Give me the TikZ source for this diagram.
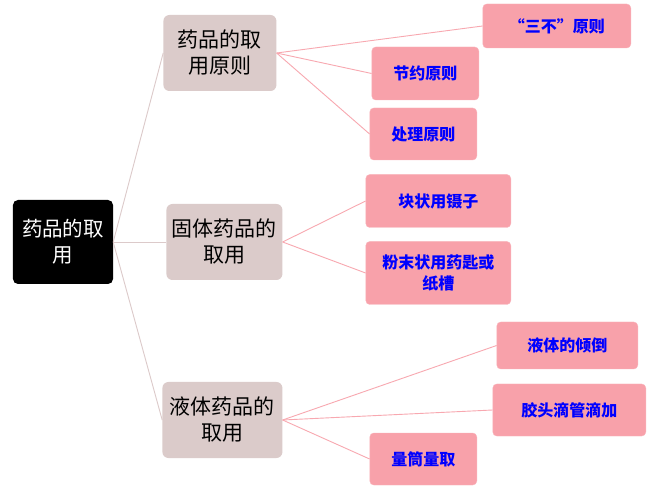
\documentclass[tikz,border=0pt]{standalone}
\usepackage{fontspec}
\setmainfont{Noto Sans CJK SC}
\usepackage{xcolor}
\usepackage{tikz}
\usetikzlibrary{positioning}
\definecolor{rootbg}{HTML}{000000}
\definecolor{midbg}{HTML}{DBCBCA}
\definecolor{leafbg}{HTML}{F8A1AA}
\definecolor{leaftext}{HTML}{0000FF}
\definecolor{trunk}{HTML}{DCCACA}
\definecolor{twig}{HTML}{F8A8B0}

\begin{document}
\begin{tikzpicture}[
  x=1pt, y=1pt,
  root/.style={fill=rootbg, text=white, rounded corners=5pt, align=center,
               minimum width=100pt, minimum height=84pt, inner sep=2pt,
               font=\fontsize{20.5}{26}\selectfont},
  mid/.style={fill=midbg, text=black, rounded corners=6pt, align=center,
              minimum width=116pt, minimum height=76pt, inner sep=2pt,
              font=\fontsize{21}{26}\selectfont},
  leaf/.style={fill=leafbg, draw=leafbg!80!white, text=leaftext, rounded corners=4pt,
               align=center, minimum height=52pt, inner sep=2pt,
               font=\bfseries\fontsize{16}{21}\selectfont},
  trunkln/.style={trunk, line width=0.9pt},
  twigln/.style={twig, line width=0.9pt},
]
\useasboundingbox[fill=white] (-63,242) rectangle (588,-245);

\node[root] (root) {药品的取\\用};

\node[mid, minimum width=113pt, right=50pt of root, yshift=189pt] (pick) {药品的取\\用原则};
\node[mid, right=53pt of root] (solid) {固体药品的\\取用};
\node[mid, minimum width=120pt, right=49pt of root, yshift=-178pt] (liquid) {液体药品的\\取用};

\node[leaf, minimum width=148pt, minimum height=44pt, right=206pt of pick, yshift=27pt] (three) {“三不”原则};
\node[leaf, minimum width=107pt, minimum height=53pt, right=95pt of pick, yshift=-20.5pt] (save) {节约原则};
\node[leaf, minimum width=107pt, right=93pt of pick, yshift=-81pt] (dispose) {处理原则};

\node[leaf, minimum width=145pt, minimum height=53pt, right=83pt of solid, yshift=41pt] (lump) {块状用镊子};
\node[leaf, minimum width=145pt, minimum height=63pt, right=83pt of solid, yshift=-31pt] (powder) {粉末状用药匙或\\纸槽};

\node[leaf, minimum width=141pt, minimum height=47pt, right=214pt of liquid, yshift=74.5pt] (pour) {液体的倾倒};
\node[leaf, minimum width=153pt, right=210pt of liquid, yshift=10pt] (drop) {胶头滴管滴加};
\node[leaf, minimum width=107pt, right=87pt of liquid, yshift=-39pt] (measure) {量筒量取};

\draw[trunkln] (root.east) -- (pick.west);
\draw[trunkln] (root.east) -- (solid.west);
\draw[trunkln] (root.east) -- (liquid.west);

\draw[twigln] (pick.east) -- (three.west);
\draw[twigln] (pick.east) -- (save.west);
\draw[twigln] (pick.east) -- (dispose.west);
\draw[twigln] (solid.east) -- (lump.west);
\draw[twigln] (solid.east) -- (powder.west);
\draw[twigln] (liquid.east) -- (pour.west);
\draw[twigln] (liquid.east) -- (drop.west);
\draw[twigln] (liquid.east) -- (measure.west);
\end{tikzpicture}
\end{document}
